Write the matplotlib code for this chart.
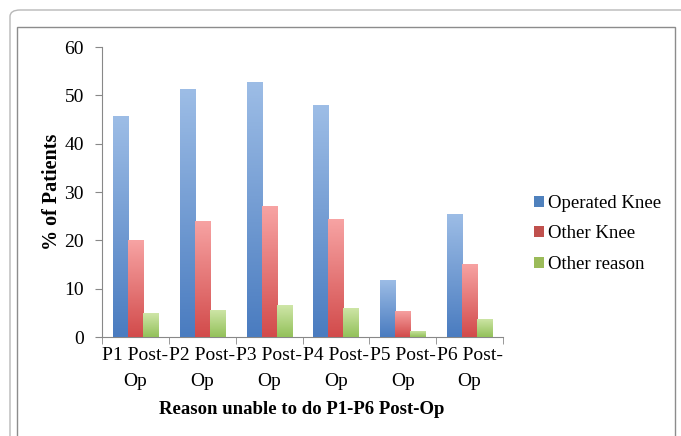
import numpy as np
import matplotlib.pyplot as plt
from matplotlib.patches import FancyBboxPatch, Rectangle
from matplotlib.colors import LinearSegmentedColormap

categories = ["P1 Post-\nOp", "P2 Post-\nOp", "P3 Post-\nOp",
              "P4 Post-\nOp", "P5 Post-\nOp", "P6 Post-\nOp"]
series_names = ["Operated Knee", "Other Knee", "Other reason"]
operated_knee = [45.8, 51.4, 52.8, 48.0, 11.8, 25.5]
other_knee = [20.0, 24.1, 27.0, 24.4, 5.4, 15.2]
other_reason = [4.9, 5.6, 6.6, 6.1, 1.3, 3.8]

# (bottom colour, top colour) for each series
shades = [("#4a7cc0", "#9dbde6"),
          ("#d24b4b", "#f7a3a3"),
          ("#93c15a", "#cfe6a8")]
solid = ["#4f81bd", "#c0504d", "#9bbb59"]

plt.rcParams['font.family'] = ['Liberation Serif', 'DejaVu Serif']

fig = plt.figure(figsize=(6.81, 4.36), dpi=100)

# outer rounded frame and inner chart border
fig.patches.append(FancyBboxPatch((10 / 681, -0.05), 1.0, 1.05 - 10 / 436,
                                  boxstyle="round,pad=0,rounding_size=0.015",
                                  transform=fig.transFigure, fill=False,
                                  edgecolor="#b8b8b8", linewidth=1.0))
fig.patches.append(Rectangle((17 / 681, -0.05), (675 - 17) / 681, 1.05 - 27 / 436,
                             transform=fig.transFigure, fill=False,
                             edgecolor="#8c8c8c", linewidth=1.0))

ax = fig.add_axes([102 / 681, 1 - 337 / 436, (503 - 102) / 681, (337 - 47) / 436])

x = np.arange(len(categories))
width = 0.225
all_series = [operated_knee, other_knee, other_reason]
grad = np.linspace(0, 1, 100).reshape(-1, 1)

handles = []
for i, vals in enumerate(all_series):
    offs = (i - 1) * width
    bars = ax.bar(x + offs, vals, width, color=solid[i], label=series_names[i],
                  zorder=2)
    cmap = LinearSegmentedColormap.from_list("g%d" % i, list(shades[i]))
    for b in bars:
        bx, by = b.get_x(), b.get_y()
        bw, bh = b.get_width(), b.get_height()
        im = ax.imshow(grad, extent=[bx, bx + bw, by, by + bh], origin="lower",
                       cmap=cmap, aspect="auto", zorder=3)
        im.set_clip_path(b)
    handles.append(Rectangle((0, 0), 1, 1, facecolor=solid[i]))

ax.set_xlim(-0.5, len(categories) - 0.5)
ax.set_ylim(0, 60)
ax.set_yticks(range(0, 61, 10))
ax.set_xticks(x)
ax.set_xticklabels(categories, fontsize=14, linespacing=1.75)
ax.set_xticks(np.arange(-0.5, len(categories), 1), minor=True)
ax.tick_params(axis="x", which="major", length=0, pad=7)
ax.tick_params(axis="x", which="minor", length=5, color="#888888")
ax.tick_params(axis="y", length=5, color="#888888", labelsize=14, pad=8)

for s in ["top", "right"]:
    ax.spines[s].set_visible(False)
for s in ["left", "bottom"]:
    ax.spines[s].set_color("#888888")

ax.set_ylabel("% of Patients", fontsize=14.5, fontweight="bold")
ax.yaxis.set_label_coords(-0.1, 0.5)
ax.set_xlabel("Reason unable to do P1-P6 Post-Op", fontsize=13.5,
              fontweight="bold")
ax.xaxis.set_label_coords(0.497, -0.22)

fig.legend(handles, series_names, loc="upper left",
           bbox_to_anchor=(517 / 681, 1 - 178 / 436), frameon=False,
           fontsize=13.5, handlelength=0.55, handleheight=0.55,
           handletextpad=0.2, labelspacing=0.72)

fig.savefig("out.png", dpi=100)
